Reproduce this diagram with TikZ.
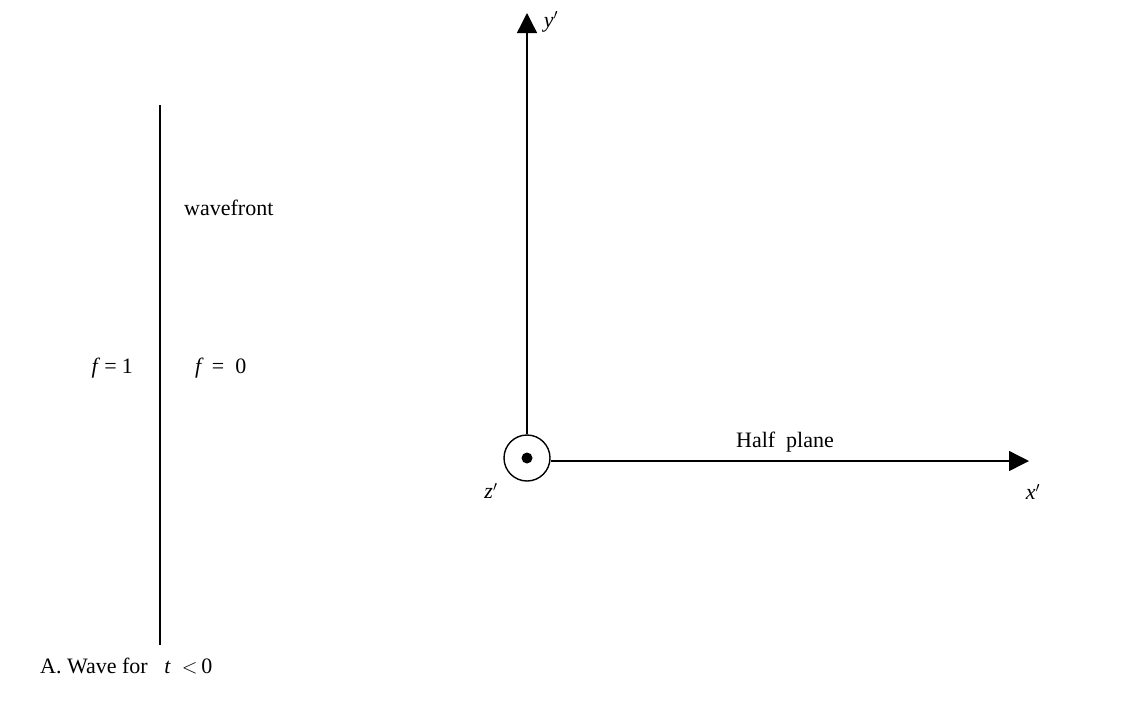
\documentclass[tikz,border=0pt]{standalone}
\usepackage{fontspec}
\setmainfont{Liberation Serif}
\usetikzlibrary{arrows.meta}
\begin{document}
\begin{tikzpicture}[x=1pt,y=-1pt,
  lbl/.style={inner sep=0pt,font=\fontsize{22}{26}\selectfont},
  ilbl/.style={inner sep=0pt,font=\fontsize{22}{26}\selectfont\itshape},
  axis/.style={line width=1.4pt,-{Triangle[length=20pt,width=20pt]}}]
\useasboundingbox (0,0) rectangle (1143,713);
% wavefront line
\coordinate (wt) at (160,105);
\coordinate (wb) at (160,645);
\draw[line width=1.4pt] (wt) -- (wb);
\node[lbl,anchor=base west] (wf) at (184,215) {wavefront};
\node[lbl,anchor=base east] (f1) at (133,373) {\textit{f}\hspace{4pt}=\hspace{5pt}1};
\node[lbl,anchor=base west] (f0) at (195,373) {\textit{f}\hspace{8pt}=\hspace{11pt}0};
% axes
\node[draw,circle,line width=1.4pt,minimum size=46pt,inner sep=0pt] (o) at (527,458) {};
\fill (o.center) circle (5.5pt);
\coordinate (ytip) at (527,13);
\coordinate (xtip) at (1029,461);
\draw[axis] (o.north) -- (ytip);
\draw[axis] (o.east |- xtip) -- (xtip);
\node[ilbl] (yl) at (551,22) {y$'$};
\node[ilbl] (xl) at (1033,492) {x$'$};
\node[ilbl] (zl) at (491,491) {z$'$};
\node[lbl,anchor=base] (hp) at (785,447) {Half\ \ plane};
\node[lbl,anchor=base west] (cap) at (40,673) {A.\ Wave for\ \ \ \textit{t}\ \ $<$\,0};
\end{tikzpicture}
\end{document}
